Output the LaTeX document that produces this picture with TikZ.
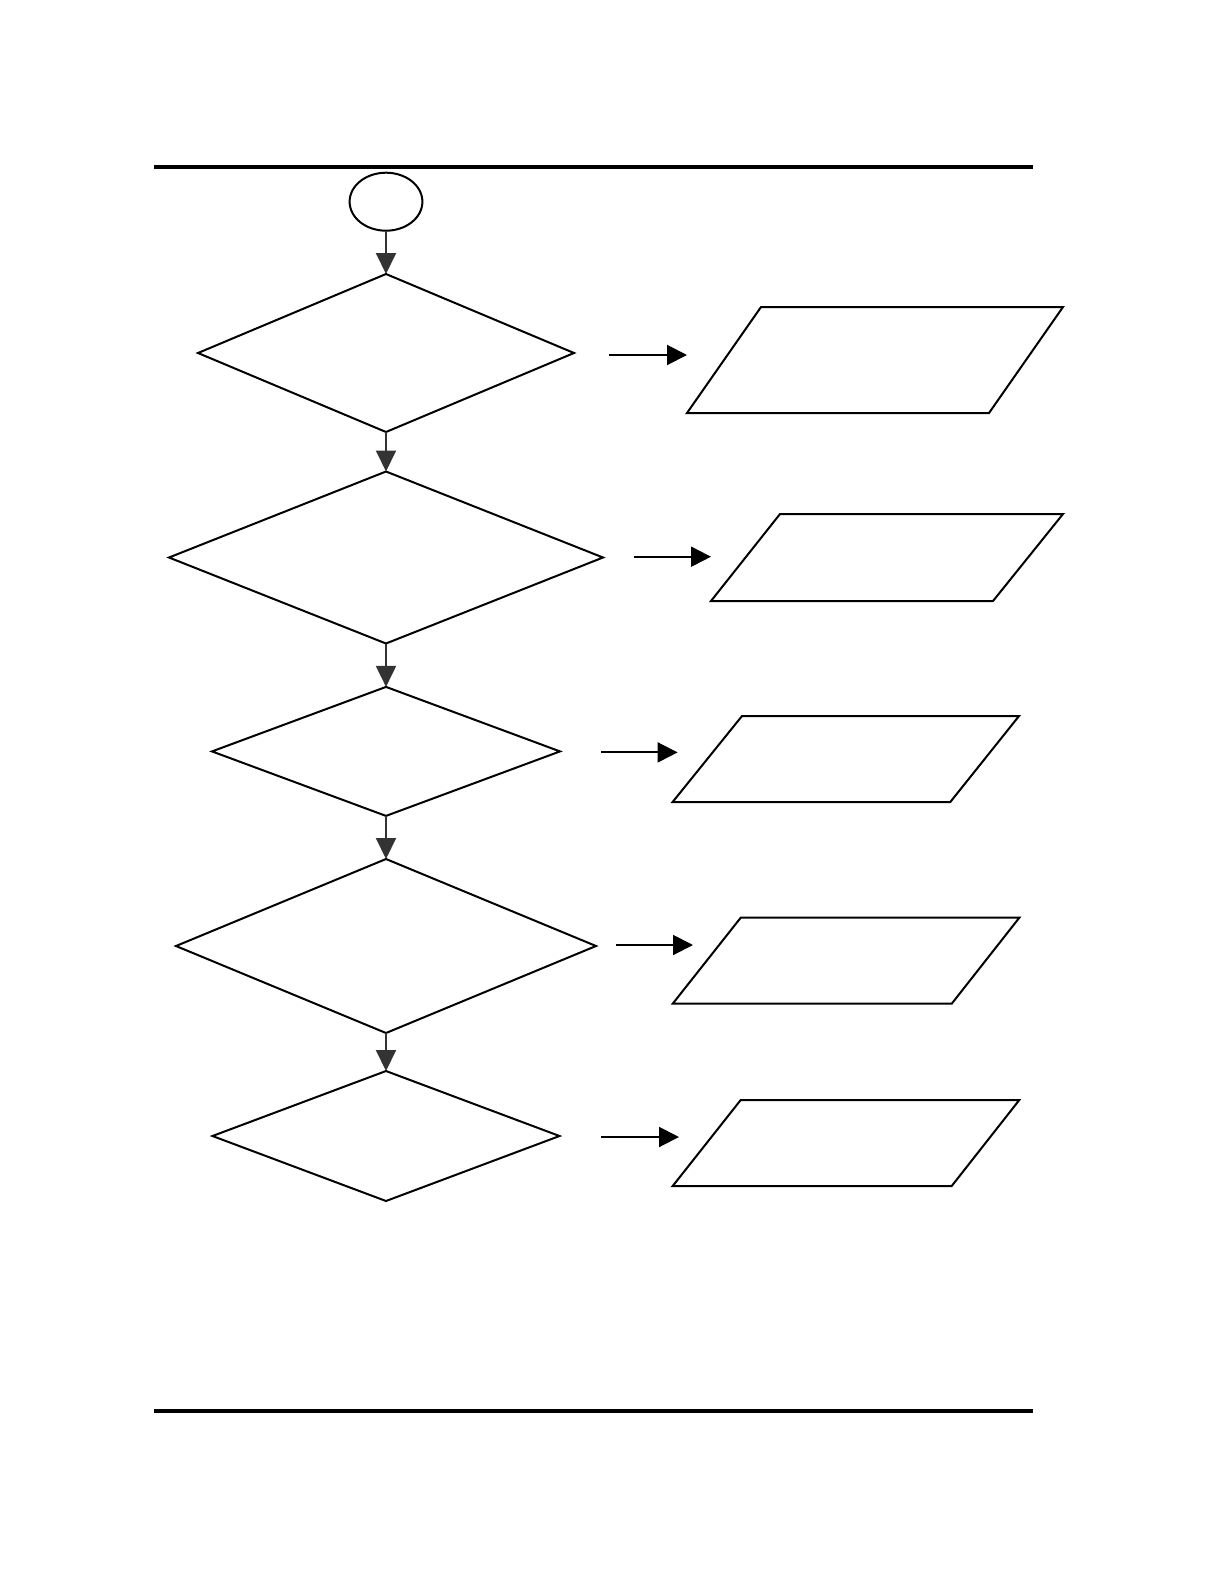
\documentclass[tikz,border=0pt]{standalone}
\usepackage{tikz}
\usetikzlibrary{arrows.meta, shapes.geometric}
\definecolor{arrowgray}{HTML}{333333}

\begin{document}
\begin{tikzpicture}[x=0.5pt, y=-0.5pt, line width=1pt,
    decision/.style={draw, diamond, inner sep=0pt, outer sep=0pt},
    down/.style={draw=arrowgray, -{Triangle[length=10.5pt, width=10pt]}, arrowgray},
    side/.style={->, >={Triangle[length=10pt, width=10pt]}}]
        \useasboundingbox (0,0) rectangle (1224,1584);
        % rules
        \draw[line width=2pt] (154,167) -- (1033,167);
        \draw[line width=2pt] (154,1411) -- (1033,1411);
        % start
        \node[draw, ellipse, inner sep=0pt, outer sep=0pt, minimum width=36.4pt, minimum height=29pt] (start) at (386,201.7) {};
        % decisions
        \node[decision, minimum width=188pt, minimum height=79pt] (dec1) at (386,353)    {};
        \node[decision, minimum width=217pt, minimum height=86pt] (dec2) at (386,557.5)  {};
        \node[decision, minimum width=174pt, minimum height=64.5pt] (dec3) at (386,751.4) {};
        \node[decision, minimum width=210pt, minimum height=87pt] (dec4) at (386,946)    {};
        \node[decision, minimum width=173.5pt, minimum height=65pt] (dec5) at (386,1136) {};
        % outputs
        \draw (687,413) -- (761,307) -- (1063,307) -- (989,413) -- cycle;
        \draw (711,601) -- (780,514) -- (1063,514) -- (993,601) -- cycle;
        \draw (672.6,802) -- (742,716) -- (1019,716) -- (950.3,802) -- cycle;
        \draw (672.7,1003.7) -- (740.7,917.7) -- (1019.3,917.7) -- (951.7,1003.7) -- cycle;
        \draw (672.7,1186) -- (740.7,1100) -- (1019.3,1100) -- (951.7,1186) -- cycle;
        % arrow ends
        \coordinate (s1) at (609,355);    \coordinate (e1) at (687,355);
        \coordinate (s2) at (634,556.7);  \coordinate (e2) at (711,556.7);
        \coordinate (s3) at (601,752.4);  \coordinate (e3) at (677.6,752.4);
        \coordinate (s4) at (616,945);    \coordinate (e4) at (693,945);
        \coordinate (s5) at (601,1137);   \coordinate (e5) at (679,1137);
        % flow
        \draw[down] (start) -- (dec1.north);
        \draw[down] (dec1.south) -- (dec2.north);
        \draw[down] (dec2.south) -- (dec3.north);
        \draw[down] (dec3.south) -- (dec4.north);
        \draw[down] (dec4.south) -- (dec5.north);
        \draw[side] (s1) -- (e1);
        \draw[side] (s2) -- (e2);
        \draw[side] (s3) -- (e3);
        \draw[side] (s4) -- (e4);
        \draw[side] (s5) -- (e5);
    \end{tikzpicture}
\end{document}
